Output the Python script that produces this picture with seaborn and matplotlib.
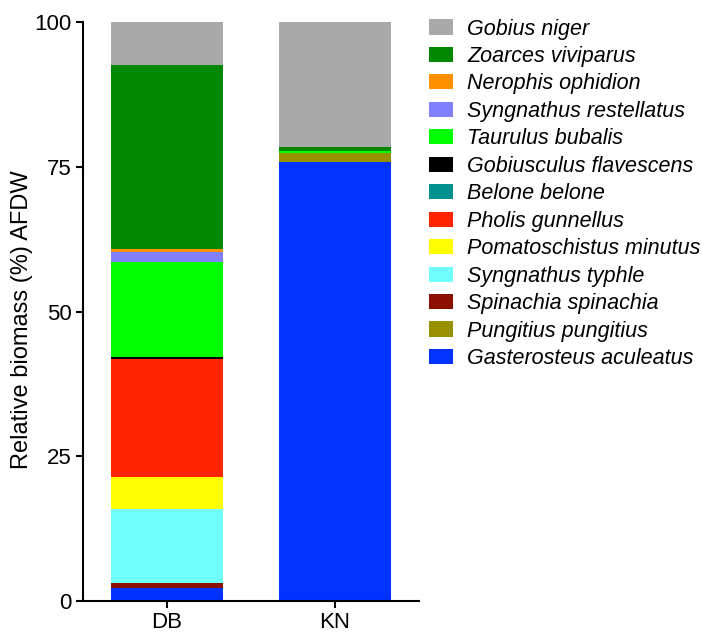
import matplotlib
matplotlib.use("Agg")
import matplotlib.pyplot as plt
from matplotlib.patches import Patch
import seaborn as sns
import numpy as np
import pandas as pd

sns.set_theme(style="ticks")
plt.rcParams['font.family'] = ['Liberation Sans', 'DejaVu Sans']
plt.rcParams['text.color'] = 'black'

sites = ["DB", "KN"]
# stacking order: bottom -> top
species = [
    "Gasterosteus aculeatus",
    "Pungitius pungitius",
    "Spinachia spinachia",
    "Syngnathus typhle",
    "Pomatoschistus minutus",
    "Pholis gunnellus",
    "Belone belone",
    "Gobiusculus flavescens",
    "Taurulus bubalis",
    "Syngnathus restellatus",
    "Nerophis ophidion",
    "Zoarces viviparus",
    "Gobius niger",
]
db_values = [2.3, 0.0, 0.8, 12.8, 5.5, 20.4, 0.0, 0.3, 16.4, 1.8, 0.5, 31.8, 7.4]
kn_values = [75.9, 1.5, 0.0, 0.0, 0.0, 0.0, 0.0, 0.0, 0.3, 0.0, 0.0, 0.7, 21.6]
colors = [
    "#0033FF",
    "#999000",
    "#8B1000",
    "#70FFFF",
    "#FFFF00",
    "#FF2400",
    "#009090",
    "#000000",
    "#00FF00",
    "#8080FF",
    "#FF9000",
    "#008800",
    "#A9A9A9",
]

fig = plt.figure(figsize=(7.02, 6.33), dpi=100)
ax = fig.add_axes([83/702, 32/633, 336/702, 579/633])

db_cum = np.cumsum(db_values)
kn_cum = np.cumsum(kn_values)

for i in range(len(species) - 1, -1, -1):
    df = pd.DataFrame({"site": sites, "value": [db_cum[i], kn_cum[i]]})
    sns.barplot(data=df, x="site", y="value", color=colors[i], saturation=1,
                width=0.667, linewidth=0, ax=ax, order=sites)

ax.set_xlim(-0.5, 1.5)
ax.set_ylim(0, 100)
ax.set_yticks([0, 25, 50, 75, 100])
ax.set_xlabel("")
ax.set_ylabel("Relative biomass (%) AFDW", fontsize=17, color="black")
ax.yaxis.set_label_coords(-0.15, 0.485)
ax.tick_params(axis="both", labelsize=16, length=5, width=1.5, color="black",
               labelcolor="black", pad=3)
for s in ["top", "right"]:
    ax.spines[s].set_visible(False)
for s in ["left", "bottom"]:
    ax.spines[s].set_linewidth(1.5)
    ax.spines[s].set_color("black")
ax.set_facecolor("white")

handles = [Patch(facecolor=colors[i], edgecolor="none") for i in range(len(species) - 1, -1, -1)]
labels = [species[i] for i in range(len(species) - 1, -1, -1)]
leg = fig.legend(handles, labels, loc="upper left", bbox_to_anchor=(429/702, 1 - 18.5/633),
                 frameon=False, prop={"style": "italic", "size": 15.5},
                 handlelength=1.12, handleheight=0.7, handletextpad=0.65,
                 labelspacing=0.30, borderpad=0, borderaxespad=0)
for t in leg.get_texts():
    t.set_color("black")

fig.savefig("out.png", dpi=100, facecolor="white")
